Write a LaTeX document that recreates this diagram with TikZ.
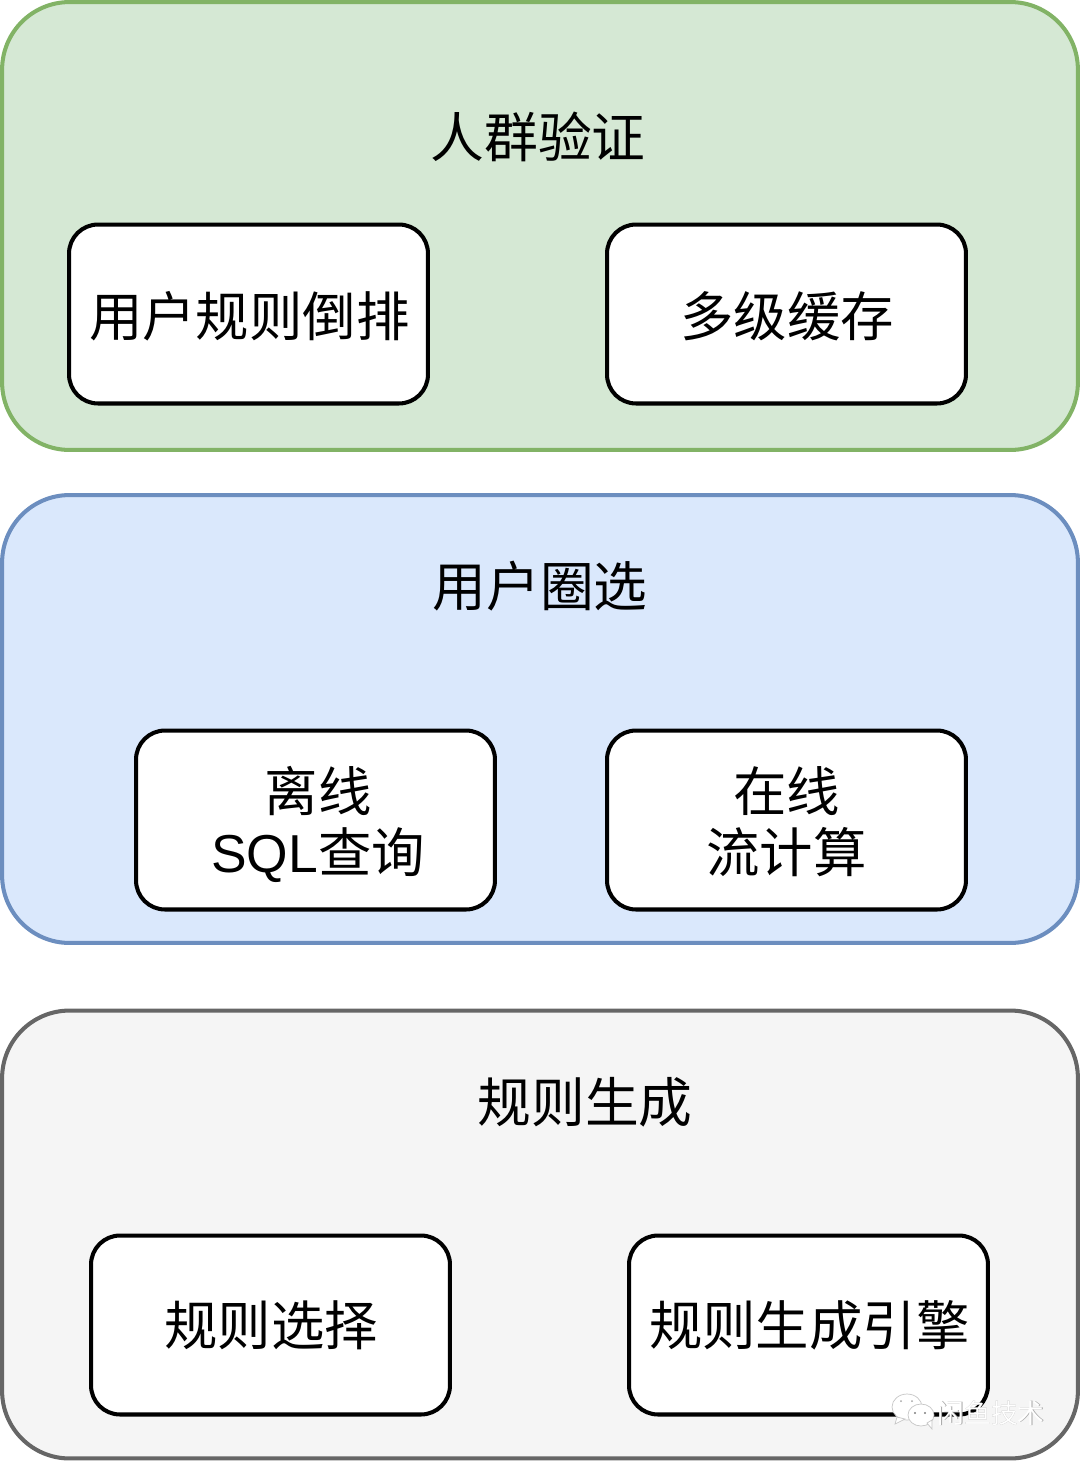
\documentclass[tikz,border=0pt]{standalone}
\usepackage{fontspec}
\setmainfont{Liberation Sans}
\newfontfamily\cjk{Noto Sans CJK SC}
\definecolor{greenfill}{HTML}{D5E8D4}
\definecolor{greenline}{HTML}{82B366}
\definecolor{bluefill}{HTML}{DAE8FC}
\definecolor{blueline}{HTML}{6C8EBF}
\definecolor{greyfill}{HTML}{F5F5F5}
\definecolor{greyline}{HTML}{666666}
\tikzset{
  layerbox/.style={draw,line width=2.3pt,rounded corners=1.35cm,minimum width=21.52cm,minimum height=8.96cm},
  itembox/.style={draw=black,fill=white,line width=2.3pt,rounded corners=0.58cm,minimum width=7.18cm,minimum height=3.58cm,align=center,text height=1.1cm,text depth=0.2cm,font=\fontsize{30.4}{35}\selectfont\cjk},
  twolines/.style={text height=2.4cm,text depth=0.3cm},
  layertitle/.style={font=\fontsize{30.6}{36}\selectfont\cjk},
  markname/.style={text=white,font=\fontsize{15.2}{18}\selectfont\cjk},
  bubble/.style={fill=white,draw=gray!45,line width=0.4pt}
}
\begin{document}
\begin{tikzpicture}[x=0.02cm,y=-0.02cm]
\useasboundingbox (0,0) rectangle (1080,1461);
% layers
\node[layerbox,draw=greenline,fill=greenfill] (verify) at (540,226) {};
\node[layerbox,draw=blueline,fill=bluefill] (select) at (540,719) {};
\node[layerbox,draw=greyline,fill=greyfill] (rules) at (540,1234.5) {};
% titles
\node[layertitle] (verifytitle) at (538,137) {人群验证};
\node[layertitle] (selecttitle) at (540,586) {用户圈选};
\node[layertitle] (rulestitle) at (585,1102) {规则生成};
% items
\node[itembox] (invert) at (248.5,314) {\hspace*{0.03cm}用户规则倒排};
\node[itembox] (cache) at (786.5,314) {\hspace*{0.03cm}多级缓存};
\node[itembox,twolines] (offline) at (315.5,820) {\hspace*{0.1cm}离线\\\hspace*{0.1cm}{\rmfamily SQL}查询};
\node[itembox,twolines] (online) at (786.5,820) {在线\\流计算};
\node[itembox,text height=1.02cm] (choose) at (270.5,1325) {\hspace*{0.03cm}规则选择};
\node[itembox,text height=1.02cm] (engine) at (808.5,1325) {\hspace*{0.03cm}规则生成引擎};
% watermark
\fill[bubble] (907,1407) ellipse (15 and 13);
\fill[bubble] (897,1417) -- (895,1424) -- (905,1419) -- cycle;
\draw[bubble] (921,1415) ellipse (13 and 11);
\fill[bubble] (927,1423) -- (932,1429) -- (932,1420) -- cycle;
\fill[gray] (915,1413) circle (1.2) (925,1413) circle (1.2);
\fill[gray!70] (901,1401) circle (1) (912,1401) circle (1);
\node[markname,text=gray!70] (markshade) at (991.6,1413.6) {闲鱼技术};
\node[markname] (mark) at (991,1413) {闲鱼技术};
\end{tikzpicture}
\end{document}
